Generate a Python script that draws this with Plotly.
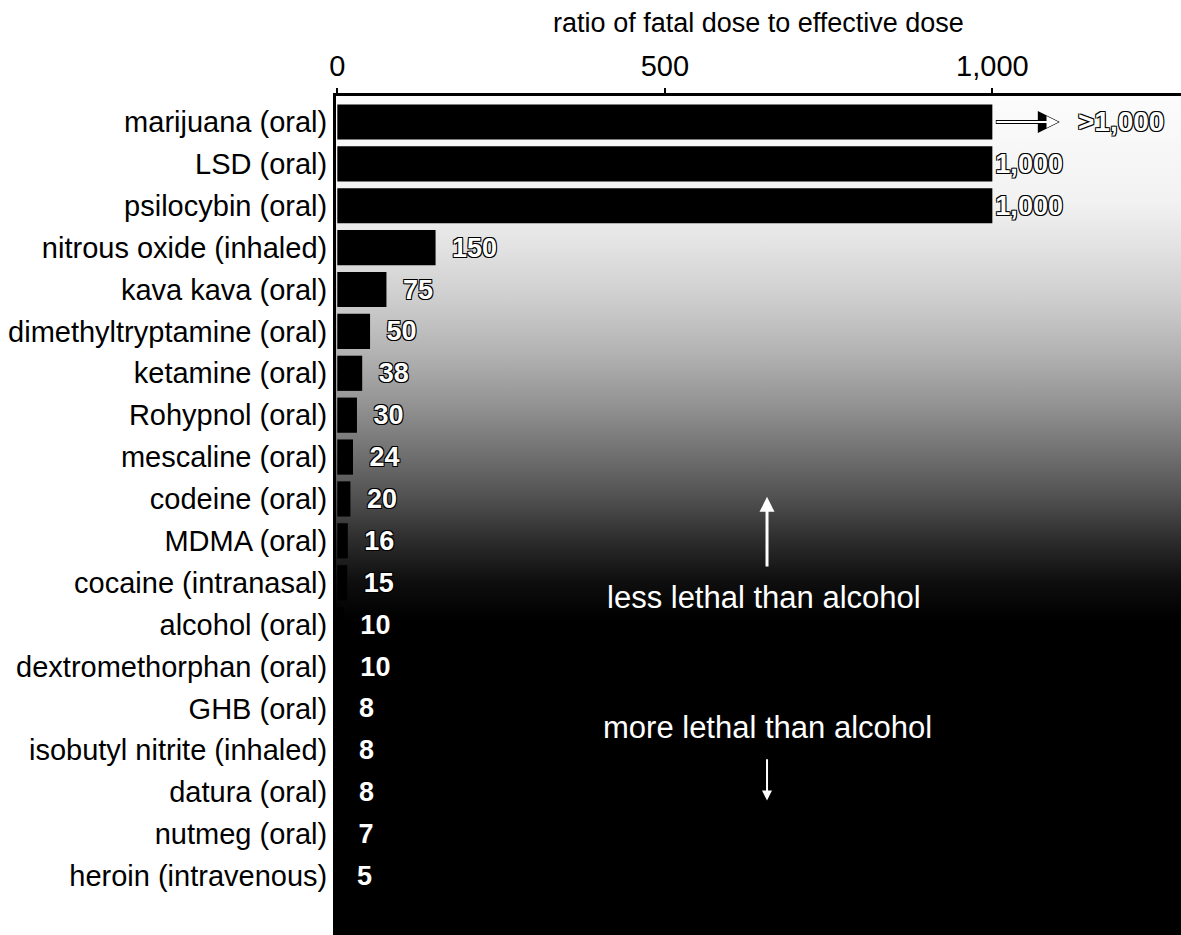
import plotly.graph_objects as go

categories = [
    "marijuana (oral)", "LSD (oral)", "psilocybin (oral)", "nitrous oxide (inhaled)",
    "kava kava (oral)", "dimethyltryptamine (oral)", "ketamine (oral)", "Rohypnol (oral)",
    "mescaline (oral)", "codeine (oral)", "MDMA (oral)", "cocaine (intranasal)",
    "alcohol (oral)", "dextromethorphan (oral)", "GHB (oral)", "isobutyl nitrite (inhaled)",
    "datura (oral)", "nutmeg (oral)", "heroin (intravenous)",
]
ratios = [1000, 1000, 1000, 150, 75, 50, 38, 30, 24, 20, 16, 15, 10, 10, 8, 8, 8, 7, 5]
value_labels = [">1,000", "1,000", "1,000", "150", "75", "50", "38", "30", "24", "20",
                "16", "15", "10", "10", "8", "8", "8", "7", "5"]
tick_values = [0, 500, 1000]
tick_labels = ["0", "500", "1,000"]
axis_title = "ratio of fatal dose to effective dose"
note_up = "less lethal than alcohol"
note_down = "more lethal than alcohol"

FONT = "Liberation Sans, Arial, Helvetica, sans-serif"
OUTLINE = "-1px -1px 0 #000, 1px -1px 0 #000, -1px 1px 0 #000, 1px 1px 0 #000"

# leading gap before each bar label (long bars: label hugs the bar end)
bar_text = []
for v, t in zip(ratios, value_labels):
    if t.startswith(">"):
        bar_text.append("")
    elif v >= 1000:
        bar_text.append(t)
    else:
        bar_text.append("\u2002" + t)

fig = go.Figure()

# background: white-to-black vertical fade behind the bars
fig.add_trace(go.Scatter(
    x=[0, 1, 1, 0, 0], y=[0, 0, 1, 1, 0],
    mode="lines", line=dict(width=0), fill="toself",
    fillgradient=dict(
        type="vertical",
        colorscale=[
            [0.0, "rgb(0,0,0)"], [0.376, "rgb(0,0,0)"], [0.423, "rgb(15,15,15)"],
            [0.471, "rgb(45,45,45)"], [0.52, "rgb(80,80,80)"], [0.578, "rgb(115,115,115)"],
            [0.638, "rgb(150,150,150)"], [0.697, "rgb(180,180,180)"],
            [0.756, "rgb(205,205,205)"], [0.816, "rgb(225,225,225)"],
            [0.875, "rgb(242,242,242)"], [1.0, "rgb(252,252,252)"],
        ],
    ),
    hoverinfo="skip", showlegend=False, xaxis="x", yaxis="y",
))

fig.add_trace(go.Bar(
    x=ratios, y=categories, orientation="h",
    marker=dict(color="black", line=dict(width=0)),
    width=0.84,
    text=bar_text, textposition="outside",
    textfont=dict(family=FONT, size=27, color="white", weight="bold", shadow=OUTLINE),
    constraintext="none", cliponaxis=False,
    showlegend=False, xaxis="x2", yaxis="y2",
))

annotations = [
    # >1,000 arrow (outlined) and label for the first bar
    dict(x=1103, y=0, ax=1003, ay=0, xref="x2", yref="y2", axref="x2", ayref="y2",
         text="", showarrow=True, arrowhead=2, arrowsize=1.1, arrowwidth=4, arrowcolor="black"),
    dict(x=1101, y=0, ax=1004, ay=0, xref="x2", yref="y2", axref="x2", ayref="y2",
         text="", showarrow=True, arrowhead=2, arrowsize=1.2, arrowwidth=2, arrowcolor="white"),
    dict(x=1127, y=0, xref="x2", yref="y2", xanchor="left", yanchor="middle",
         text=value_labels[0], showarrow=False,
         font=dict(family=FONT, size=28, color="white", weight="bold", shadow=OUTLINE)),
    # less / more lethal notes
    dict(x=656, y=8.95, ax=656, ay=10.65, xref="x2", yref="y2", axref="x2", ayref="y2",
         text="", showarrow=True, arrowhead=2, arrowsize=1, arrowwidth=3, arrowcolor="white"),
    dict(x=652, y=11.36, xref="x2", yref="y2", text=note_up, showarrow=False,
         font=dict(family=FONT, size=31, color="white")),
    dict(x=656, y=14.46, xref="x2", yref="y2", text=note_down, showarrow=False,
         font=dict(family=FONT, size=31, color="white")),
    dict(x=656, y=16.2, ax=656, ay=15.18, xref="x2", yref="y2", axref="x2", ayref="y2",
         text="", showarrow=True, arrowhead=2, arrowsize=1, arrowwidth=2, arrowcolor="white"),
]

fig.update_layout(
    width=1181, height=935,
    margin=dict(l=336, r=0, t=96, b=0, pad=0),
    paper_bgcolor="white", plot_bgcolor="white",
    font=dict(family=FONT, color="black"),
    showlegend=False,
    xaxis=dict(range=[0, 1], visible=False, fixedrange=True),
    yaxis=dict(range=[0, 1], visible=False, fixedrange=True),
    xaxis2=dict(
        overlaying="x", side="top", anchor="y2",
        range=[-2, 1288], tickvals=tick_values, ticktext=tick_labels,
        ticks="outside", ticklen=5, tickwidth=2, tickcolor="black",
        showline=True, linecolor="black", linewidth=3,
        showgrid=False, zeroline=False,
        tickfont=dict(family=FONT, size=29, color="black"),
        title=dict(text=axis_title, font=dict(family=FONT, size=27, color="black"), standoff=10),
    ),
    yaxis2=dict(
        overlaying="y", anchor="x2", type="category",
        categoryorder="array", categoryarray=categories,
        range=[19.41, -0.62],
        showline=True, linecolor="black", linewidth=3,
        showgrid=False, zeroline=False, ticks="",
        tickfont=dict(family=FONT, size=29, color="black"),
        ticklabelstandoff=0,
    ),
    annotations=annotations,
)

fig.write_html("out.html", config={"displayModeBar": False},
               post_script="document.body.style.margin='0';")
